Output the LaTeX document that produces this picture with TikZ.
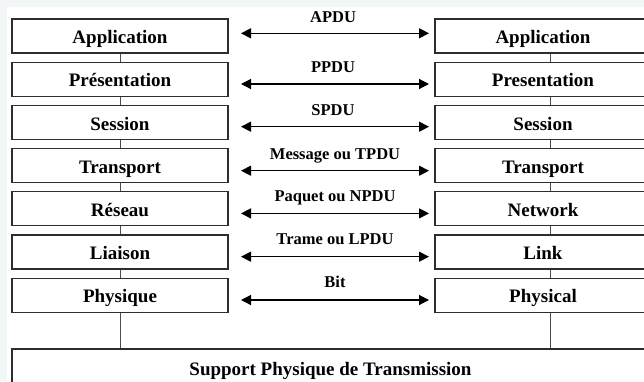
\documentclass[tikz,border=0pt]{standalone}
\usepackage{fontspec}
\setmainfont{Liberation Serif}
\usepackage{tikz}
\usetikzlibrary{arrows.meta,positioning,calc}
\definecolor{bordergray}{RGB}{45,45,45}
\definecolor{pagegray}{RGB}{243,246,246}
\tikzset{
  layer/.style={draw=bordergray, line width=1.2pt, fill=white, minimum width=216pt, minimum height=34pt,
    inner sep=0pt, text height=15.4pt, text depth=0pt, font=\fontsize{19}{21}\selectfont\bfseries},
  pdu/.style={anchor=base, inner sep=0pt, font=\fontsize{16.5}{18}\selectfont\bfseries},
  link/.style={draw=bordergray!85, line width=0.9pt},
  peer/.style={{Triangle[length=10pt,width=10pt]}-{Triangle[length=10pt,width=10pt]}, line width=1.2pt, draw=black}
}

\begin{document}
\begin{tikzpicture}[x=1pt,y=-1pt]
          \fill[pagegray] (0,0) rectangle (644,381);
          \fill[white] (7,7) rectangle (644,381);
          \useasboundingbox (0,0) rectangle (644,381);
          \clip (0,0) rectangle (644,381);

          \node[layer] (app) at (120, 36) {Application};
          \node[layer] (pres) at (120, 79.2) {Présentation};
          \node[layer] (sess) at (120, 122.4) {Session};
          \node[layer] (trans) at (120, 165.6) {Transport};
          \node[layer] (res) at (120, 208.8) {Réseau};
          \node[layer] (liai) at (120, 252) {Liaison};
          \node[layer] (phys) at (120, 295.2) {Physique};

          \node[layer] (rapp) at (543, 36) {Application};
          \node[layer] (rpres) at (543, 79.2) {Presentation};
          \node[layer] (rsess) at (543, 122.4) {Session};
          \node[layer] (rtrans) at (543, 165.6) {Transport};
          \node[layer] (rnet) at (543, 208.8) {Network};
          \node[layer] (rlink) at (543, 252) {Link};
          \node[layer] (rphys) at (543, 295.2) {Physical};

          \node[layer, minimum width=637pt, minimum height=38pt] (medium) at (330.5, 368) {Support Physique de Transmission};

          \draw[link] (app) -- (pres);
          \draw[link] (pres) -- (sess);
          \draw[link] (sess) -- (trans);
          \draw[link] (trans) -- (res);
          \draw[link] (res) -- (liai);
          \draw[link] (liai) -- (phys);
          \draw[link] (phys.south) -- (phys.south |- medium.north);

          \draw[link] ([xshift=7pt]rapp.south) -- ([xshift=7pt]rpres.north);
          \draw[link] ([xshift=7pt]rpres.south) -- ([xshift=7pt]rsess.north);
          \draw[link] ([xshift=7pt]rsess.south) -- ([xshift=7pt]rtrans.north);
          \draw[link] ([xshift=7pt]rtrans.south) -- ([xshift=7pt]rnet.north);
          \draw[link] ([xshift=7pt]rnet.south) -- ([xshift=7pt]rlink.north);
          \draw[link] ([xshift=7pt]rlink.south) -- ([xshift=7pt]rphys.north);
          \draw[link] ([xshift=7pt]rphys.south) -- ([xshift=7pt]rphys.south |- medium.north);

          \coordinate (a1) at (241, 33.3);
          \coordinate (b1) at (429, 33.3);
          \coordinate (a2) at (241, 84);
          \coordinate (b2) at (429, 84);
          \coordinate (a3) at (241, 126.7);
          \coordinate (b3) at (429, 126.7);
          \coordinate (a4) at (241, 170.7);
          \coordinate (b4) at (429, 170.7);
          \coordinate (a5) at (241, 213.4);
          \coordinate (b5) at (429, 213.4);
          \coordinate (a6) at (241, 256.7);
          \coordinate (b6) at (429, 256.7);
          \coordinate (a7) at (241, 300);
          \coordinate (b7) at (429, 300);

          \draw[peer] (a1) -- (b1);
          \draw[peer] (a2) -- (b2);
          \draw[peer] (a3) -- (b3);
          \draw[peer] (a4) -- (b4);
          \draw[peer] (a5) -- (b5);
          \draw[peer] (a6) -- (b6);
          \draw[peer] (a7) -- (b7);

          \node[pdu] (apdu) at (333, 22.5) {APDU};
          \node[pdu] (ppdu) at (333, 72.8) {PPDU};
          \node[pdu] (spdu) at (333, 115.3) {SPDU};
          \node[pdu] (tpdu) at (335, 159) {Message ou TPDU};
          \node[pdu] (npdu) at (335, 201.8) {Paquet ou NPDU};
          \node[pdu] (lpdu) at (335, 244.8) {Trame ou LPDU};
          \node[pdu] (bit) at (335, 287.5) {Bit};
        \end{tikzpicture}
\end{document}
